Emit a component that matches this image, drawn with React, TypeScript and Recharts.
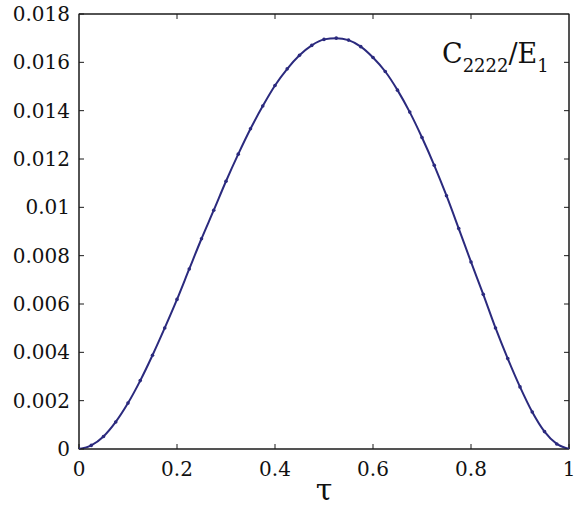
import React from 'react';
import { LineChart, Line, XAxis, YAxis, ReferenceLine, Customized } from 'recharts';

const tau = [
  0, 0.025, 0.05, 0.075, 0.1, 0.125, 0.15, 0.175, 0.2, 0.225,
  0.25, 0.275, 0.3, 0.325, 0.35, 0.375, 0.4, 0.425, 0.45, 0.475,
  0.5, 0.525, 0.55, 0.575, 0.6, 0.625, 0.65, 0.675, 0.7, 0.725,
  0.75, 0.775, 0.8, 0.825, 0.85, 0.875, 0.9, 0.925, 0.95, 0.975, 1,
];
const c2222 = [
  0, 0.00015, 0.00052, 0.00112, 0.0019, 0.00283, 0.00388, 0.00501, 0.00619, 0.00745,
  0.0087, 0.00988, 0.01108, 0.0122, 0.01325, 0.01419, 0.01504, 0.01573, 0.01629, 0.0167,
  0.01695, 0.017, 0.01692, 0.01665, 0.0162, 0.01562, 0.01485, 0.01394, 0.01289, 0.01174,
  0.01048, 0.00912, 0.00774, 0.0064, 0.00501, 0.00374, 0.00257, 0.00153, 0.00072, 0.00021, 0,
];
const xTicks = [0, 0.2, 0.4, 0.6, 0.8, 1];
const yTicks = [0, 0.002, 0.004, 0.006, 0.008, 0.01, 0.012, 0.014, 0.016, 0.018];

const data = tau.map((t, i) => ({ tau: t, c: c2222[i] }));

const FONT = 'DejaVu Serif';
const LINE_COLOR = '#2b2a7e';
const AXIS_COLOR = '#1a1a1a';

const PLOT = { left: 79, top: 14, width: 490, height: 435 };

const Frame = () => (
  <g>
    <rect
      x={PLOT.left}
      y={PLOT.top}
      width={PLOT.width}
      height={PLOT.height}
      fill="none"
      stroke={AXIS_COLOR}
      strokeWidth={1}
    />
    {xTicks.slice(1, -1).map((t) => {
      const x = PLOT.left + (t / xTicks[xTicks.length - 1]) * PLOT.width;
      return <line key={'tx' + t} x1={x} x2={x} y1={PLOT.top} y2={PLOT.top + 5} stroke={AXIS_COLOR} />;
    })}
    {yTicks.slice(1, -1).map((v) => {
      const y = PLOT.top + PLOT.height - (v / yTicks[yTicks.length - 1]) * PLOT.height;
      const xr = PLOT.left + PLOT.width;
      return <line key={'ty' + v} x1={xr - 5} x2={xr} y1={y} y2={y} stroke={AXIS_COLOR} />;
    })}
  </g>
);

const Annotation = () => (
  <g>
    <Frame />
    <text x={442} y={63} fontFamily={FONT} fontSize={27} fill="#111">
      <tspan>C</tspan>
      <tspan fontSize={18} dy={9}>2222</tspan>
      <tspan dy={-9}>/E</tspan>
      <tspan fontSize={18} dy={9}>1</tspan>
    </text>
  </g>
);

export default function App() {
  const tickStyle = { fontFamily: FONT, fontSize: 20, fill: '#111' };
  return (
    <div style={{ position: 'absolute', left: 0, top: 0, width: 574, height: 509, overflow: 'hidden', background: '#fff' }}>
      <LineChart
        width={574}
        height={509}
        data={data}
        margin={{ top: 14, right: 5, left: 0, bottom: 0 }}
      >
        <XAxis
          dataKey="tau"
          type="number"
          domain={[0, 1]}
          ticks={xTicks}
          allowDataOverflow
          height={60}
          tickSize={-5}
          tickMargin={18}
          tick={tickStyle}
          stroke={AXIS_COLOR}
          label={{ value: 'τ', position: 'insideBottom', offset: 9, style: { fontFamily: FONT, fontSize: 30, fill: '#111' } }}
        />
        <YAxis
          type="number"
          domain={[0, 0.018]}
          ticks={yTicks}
          allowDataOverflow
          width={79}
          tickSize={-5}
          tickMargin={14}
          tick={tickStyle}
          stroke={AXIS_COLOR}
        />
        <ReferenceLine y={0.018} stroke={AXIS_COLOR} />
        <ReferenceLine x={1} stroke={AXIS_COLOR} />
        <Line
          type="monotone"
          dataKey="c"
          stroke={LINE_COLOR}
          strokeWidth={2}
          dot={{ r: 1.8, fill: LINE_COLOR, stroke: LINE_COLOR, strokeWidth: 0 }}
          isAnimationActive={false}
        />
        <Customized component={Annotation} />
      </LineChart>
    </div>
  );
}
